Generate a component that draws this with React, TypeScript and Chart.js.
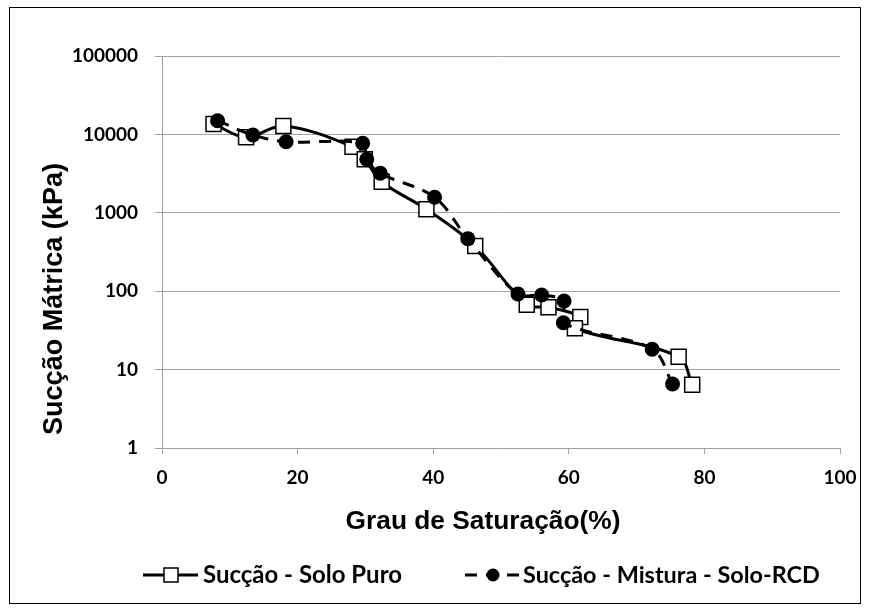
import React, { useEffect, useRef } from "react";
import { Chart, registerables } from "chart.js";

Chart.register(...registerables);

// ---- data ----
const soloPuroSat = [7.6, 12.4, 17.9, 28.1, 29.9, 32.4, 39.0, 46.2, 53.8, 57.0, 61.7, 60.9, 76.2, 78.2];
const soloPuroSuc = [13600, 9180, 12800, 6970, 4810, 2490, 1110, 377, 67, 62.5, 47, 33.6, 14.6, 6.4];
const misturaSat = [8.2, 13.4, 18.3, 29.6, 30.2, 32.2, 40.2, 45.1, 52.5, 56.0, 59.3, 59.2, 72.3, 75.3];
const misturaSuc = [14960, 9820, 8070, 7700, 4810, 3190, 1580, 468, 92, 89.5, 75, 39.6, 18.2, 6.55];
const xTicks = [0, 20, 40, 60, 80, 100];
const yTicks = [1, 10, 100, 1000, 10000, 100000];
const seriesNames = ["Sucção - Solo Puro", "Sucção - Mistura - Solo-RCD"];
const xTitle = "Grau de Saturação(%)";
const yTitle = "Sucção Mátrica (kPa)";

const GRID = "#a3a3a3";
const TITLE_FONT = "'Liberation Sans', Arial, sans-serif";
const LEGEND_FONT = "Lato, 'Open Sans', sans-serif";

function fitFont(ctx: CanvasRenderingContext2D, text: string, family: string, target: number) {
  ctx.font = `bold 100px ${family}`;
  const w = ctx.measureText(text).width;
  const size = (100 * target) / w;
  ctx.font = `bold ${size.toFixed(2)}px ${family}`;
}

const decor = {
  id: "decor",
  afterDraw(chart: any) {
    const ctx: CanvasRenderingContext2D = chart.ctx;
    ctx.save();
    // outer frame
    ctx.strokeStyle = "#000";
    ctx.lineWidth = 1;
    ctx.setLineDash([]);
    ctx.strokeRect(9.5, 7.5, 851, 596);

    ctx.fillStyle = "#000";
    // x title
    fitFont(ctx, xTitle, TITLE_FONT, 275);
    ctx.textAlign = "center";
    ctx.textBaseline = "alphabetic";
    ctx.fillText(xTitle, 483, 529);

    // y title
    ctx.save();
    ctx.translate(62, 299);
    ctx.rotate(-Math.PI / 2);
    fitFont(ctx, yTitle, TITLE_FONT, 272);
    ctx.textAlign = "center";
    ctx.textBaseline = "alphabetic";
    ctx.fillText(yTitle, 0, 0);
    ctx.restore();

    // legend
    const ly = 575;
    // entry 1: solid line with square
    ctx.strokeStyle = "#000";
    ctx.lineWidth = 3;
    ctx.beginPath();
    ctx.moveTo(143, ly);
    ctx.lineTo(198, ly);
    ctx.stroke();
    ctx.fillStyle = "#fff";
    ctx.lineWidth = 1.5;
    ctx.fillRect(164, ly - 7, 14, 14);
    ctx.strokeRect(164, ly - 7, 14, 14);
    ctx.fillStyle = "#000";
    fitFont(ctx, seriesNames[0], LEGEND_FONT, 199);
    ctx.textAlign = "left";
    ctx.textBaseline = "alphabetic";
    ctx.fillText(seriesNames[0], 203, 583);

    // entry 2: dashed line with circle
    ctx.lineWidth = 3;
    ctx.setLineDash([12, 9]);
    ctx.beginPath();
    ctx.moveTo(465, ly);
    ctx.lineTo(520, ly);
    ctx.stroke();
    ctx.setLineDash([]);
    ctx.beginPath();
    ctx.arc(493, ly, 6.5, 0, Math.PI * 2);
    ctx.fill();
    fitFont(ctx, seriesNames[1], LEGEND_FONT, 297);
    ctx.fillText(seriesNames[1], 523, 583);

    ctx.restore();
  },
};

export default function App() {
  const ref = useRef<HTMLCanvasElement | null>(null);

  useEffect(() => {
    if (!ref.current) return;
    const chart = new Chart(ref.current, {
      type: "scatter",
      data: {
        datasets: [
          {
            label: seriesNames[1],
            data: misturaSat.map((x, i) => ({ x, y: misturaSuc[i] })),
            showLine: true,
            borderColor: "#000",
            borderWidth: 3,
            borderDash: [12, 9],
            tension: 0.35,
            pointStyle: "circle",
            pointRadius: 7.5,
            pointBackgroundColor: "#000",
            pointBorderColor: "#000",
            pointBorderWidth: 0,
          },
          {
            label: seriesNames[0],
            data: soloPuroSat.map((x, i) => ({ x, y: soloPuroSuc[i] })),
            showLine: true,
            borderColor: "#000",
            borderWidth: 3,
            tension: 0.35,
            pointStyle: "rect",
            pointRadius: 10.6,
            pointBackgroundColor: "#fff",
            pointBorderColor: "#000",
            pointBorderWidth: 1.5,
          },
        ],
      },
      options: {
        responsive: false,
        animation: false,
        layout: { padding: { left: 0, right: 30, top: 56, bottom: 123 } },
        plugins: {
          legend: { display: false },
          tooltip: { enabled: false },
        },
        scales: {
          x: {
            type: "linear",
            min: 0,
            max: 100,
            afterBuildTicks: (s: any) => {
              s.ticks = xTicks.map((v) => ({ value: v }));
            },
            afterFit: (s: any) => {
              s.height = 40;
            },
            grid: { drawOnChartArea: false, drawTicks: true, tickLength: 6, color: GRID, lineWidth: 1 },
            border: { color: GRID, width: 1 },
            ticks: {
              color: "#000",
              font: { family: LEGEND_FONT, weight: "bold", size: 19 },
              padding: 12,
              maxRotation: 0,
              autoSkip: false,
            },
          },
          y: {
            type: "logarithmic",
            min: 1,
            max: 100000,
            afterBuildTicks: (s: any) => {
              s.ticks = yTicks.map((v) => ({ value: v }));
            },
            afterFit: (s: any) => {
              s.width = 162;
            },
            grid: { color: GRID, lineWidth: 1, tickLength: 7 },
            border: { color: GRID, width: 1 },
            ticks: {
              color: "#000",
              font: { family: LEGEND_FONT, weight: "bold", size: 19 },
              padding: 17,
              autoSkip: false,
              callback: (v: any) => String(v),
            },
          },
        },
      } as any,
      plugins: [decor],
    });
    return () => chart.destroy();
  }, []);

  return (
    <div style={{ position: "absolute", left: 0, top: 0, width: 870, height: 611, background: "#fff" }}>
      <canvas ref={ref} width={870} height={611} style={{ width: 870, height: 611, display: "block" }} />
    </div>
  );
}
